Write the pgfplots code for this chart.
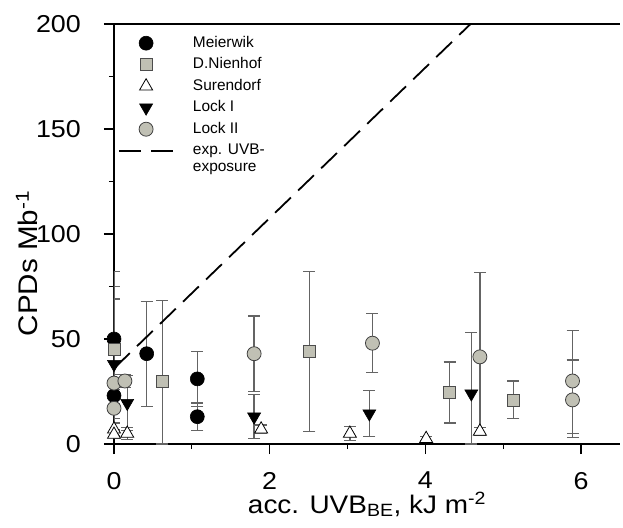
\documentclass[border=0pt]{standalone}
\usepackage{pgfplots}
\pgfplotsset{compat=1.18}
\usepackage{fontspec}
\setmainfont{Liberation Sans}
\newfontfamily\bigfont{Liberation Sans}[FakeStretch=1.1]
\definecolor{fillgray}{RGB}{192,192,180}
\definecolor{errgray}{RGB}{100,100,100}
\begin{document}
\begin{tikzpicture}
\useasboundingbox (-114bp,-84bp) rectangle (509bp,444bp);
\begin{axis}[
  at={(0,0)}, anchor=south west,
  scale only axis, width=506bp, height=420bp,
  xmin=0, xmax=6.5, ymin=0, ymax=200,
  axis x line*=box, axis y line*=left,
  xtick={0,2,4,6}, ytick={0,50,100,150,200},
  minor x tick num=1, minor y tick num=1,
  tick align=outside, tick pos=left,
  major tick length=10bp, minor tick length=5bp,
  every tick/.style={black, line width=1.2pt},
  axis line style={line width=1.6pt},
  /pgf/number format/assume math mode=true,
  ticklabel style={font=\bigfont\fontsize{24.5}{28}\selectfont},
  yticklabel style={inner xsep=0pt, xshift=-23bp},
  xticklabel style={inner ysep=0pt, yshift=-18bp},
  xlabel={acc. UVB\textsubscript{BE}, kJ m\textsuperscript{-2}},
  ylabel={CPDs Mb\textsuperscript{-1}},
  xlabel style={font=\bigfont\fontsize{25.5}{30}\selectfont, at={(axis description cs:0.5,0)}, anchor=base, yshift=-69bp},
  ylabel style={font=\bigfont\fontsize{27}{30}\selectfont, at={(axis description cs:-0.172,0.43)}, anchor=center},
  error bars/y dir=both, error bars/y explicit,
  error bars/error bar style={errgray, line width=1.3pt},
  error bars/error mark options={errgray, line width=1.3pt, mark size=6bp, rotate=90},
  legend image code/.code={\draw[mark repeat=2,mark phase=2,#1] plot coordinates {(0bp,0bp) (27bp,0bp) (54bp,0bp)};},
  legend style={at={(axis description cs:0,1)}, anchor=north west, xshift=4bp, yshift=-11bp,
    draw=none, fill=none, inner sep=0pt, row sep=5.5bp, column sep=0bp,
    font=\fontsize{15.5}{18}\selectfont,
    nodes={text height=11bp, text depth=3bp, inner ysep=1bp, inner xsep=0pt}},
  legend cell align=left,
]
% error bars (drawn first)
\addplot[forget plot, only marks, mark=none] coordinates {
 (0,50) +- (0,32)
 (0,23) +- (0,4)
 (0.42,43) +- (0,25)
 (1.07,31) +- (0,13)
 (1.07,13) +- (0,6.5)
};
\addplot[forget plot, only marks, mark=none] coordinates {
 (0,45) +- (0,30)
 (0.62,30) += (0,38.5) -= (0,30)
 (2.51,44) +- (0,38)
 (4.31,24.5) +- (0,14.5)
 (5.13,21) +- (0,9)
};
\addplot[forget plot, only marks, mark=none] coordinates {
 (0,7) +- (0,3)
 (0,4.5) +- (0,2)
 (0.17,5) +- (0,3)
 (1.89,7) +- (0,2)
 (3.03,5) +- (0,3.5)
 (4.01,2.5) +- (0,1)
 (4.70,6) +- (0,2)
};
\addplot[forget plot, only marks, mark=none] coordinates {
 (0,38) +- (0,31)
 (0,21) +- (0,5)
 (0.17,19.5) +- (0,13)
 (1.8,13) +- (0,10.5)
 (3.28,14.5) +- (0,11)
 (4.59,24) += (0,29) -= (0,24)
};
\addplot[forget plot, only marks, mark=none] coordinates {
 (0,29) +- (0,4)
 (0,17) +- (0,5)
 (0.14,30) +- (0,3)
 (1.8,43) +- (0,18)
 (3.32,48) +- (0,14)
 (4.70,41.5) += (0,40) -= (0,37)
 (5.89,30) += (0,24) -= (0,27)
 (5.89,21) += (0,19) -= (0,16)
};
% markers
\addplot[only marks, mark=*, mark size=7bp, mark options={fill=black, draw=black, line width=0.6pt}, error bars/y dir=none] coordinates {
 (0,50) (0,23) (0.42,43) (1.07,31) (1.07,13)
};
\addlegendentry{\hspace{19bp}Meierwik}
\addplot[only marks, mark=square*, mark size=6bp, mark options={fill=fillgray, draw=black!70, line width=0.8pt}, error bars/y dir=none] coordinates {
 (0,45) (0.62,30) (2.51,44) (4.31,24.5) (5.13,21)
};
\addlegendentry{\hspace{19bp}D.Nienhof}
\addplot[only marks, mark=triangle*, mark size=7.5bp, mark options={fill=white, draw=black, line width=0.8pt}, error bars/y dir=none] coordinates {
 (0,7) (0,4.5) (0.17,5) (1.89,7) (3.03,5) (4.01,2.5) (4.70,6)
};
\addlegendentry{\hspace{19bp}Surendorf}
\addplot[only marks, mark=triangle*, mark size=7.5bp, mark options={fill=black, draw=black, rotate=180, line width=0.6pt}, error bars/y dir=none] coordinates {
 (0,38) (0,21) (0.17,19.5) (1.8,13) (3.28,14.5) (4.59,24)
};
\addlegendentry{\hspace{19bp}Lock I}
\addplot[only marks, mark=*, mark size=7bp, mark options={fill=fillgray, draw=black!75, line width=0.8pt}, error bars/y dir=none] coordinates {
 (0,29) (0,17) (0.14,30) (1.8,43) (3.32,48) (4.70,41.5) (5.89,30) (5.89,21)
};
\addlegendentry{\hspace{19bp}Lock II}
\addplot[black, line width=1.8pt, dash pattern=on 22bp off 10bp, no marks, error bars/y dir=none] coordinates {
 (0,36) (4.58,200)
};
\addlegendentry{\hspace{19bp}exp. UVB-}
\addlegendimage{empty legend}
\addlegendentry[text height=6bp]{\hspace{19bp}exposure}
\end{axis}
\end{tikzpicture}
\end{document}
